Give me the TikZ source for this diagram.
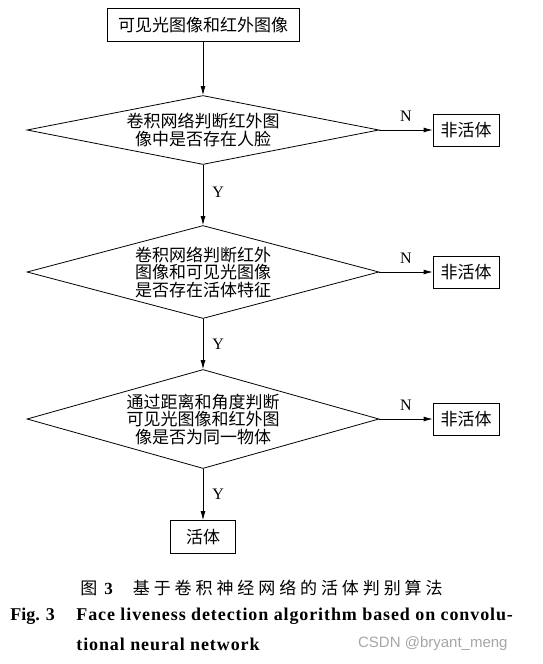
\documentclass[tikz,border=0pt]{standalone}
\usepackage{fontspec}
\setmainfont{Liberation Serif}
\setsansfont{Liberation Sans}
\newfontfamily\cjk{Noto Sans CJK SC}
\newfontfamily\capcjk[LetterSpace=23]{Noto Sans CJK SC}
\newfontfamily\capserif[LetterSpace=5]{Liberation Serif}
\usetikzlibrary{shapes.geometric,arrows.meta,calc}

\begin{document}
\begin{tikzpicture}[x=1pt, y=1pt, line width=0.8pt, font=\cjk\fontsize{17}{17.5}\selectfont,
	>={Latex[length=9pt,width=5pt]},
	block/.style={rectangle, draw, inner sep=0pt, minimum width=66pt, minimum height=32pt},
	decision/.style={diamond, draw, inner sep=0pt, align=center, minimum width=352pt},
	yn/.style={font=\rmfamily\fontsize{16}{16}\selectfont, inner sep=2pt},
	capen/.style={anchor=west, inner sep=0pt, font=\capserif\bfseries\fontsize{18}{18}\selectfont}]
	 \useasboundingbox (0,0) rectangle (543,-664);

	 \node[block, minimum width=192pt, minimum height=33pt] (input) at (203,-25) {可见光图像和红外图像};
	 \node[decision, below of=input, node distance=105pt, minimum height=69pt, aspect=5.1] (face) {卷积网络判断红外图\\像中是否存在人脸};
	 \node[decision, below of=face, node distance=142pt, minimum height=93pt, aspect=3.8] (alive) {卷积网络判断红外\\图像和可见光图像\\是否存在活体特征};
	 \node[decision, below of=alive, node distance=147pt, minimum height=99pt, aspect=3.56] (same) {通过距离和角度判断\\可见光图像和红外图\\像是否为同一物体};
	 \node[block, below of=same, node distance=118pt, minimum width=65pt, minimum height=33pt] (live) {活体};

	 \node[block, right of=face, node distance=263pt] (nolive1) {非活体};
	 \node[block, right of=alive, node distance=263pt] (nolive2) {非活体};
	 \node[block, right of=same, node distance=263pt] (nolive3) {非活体};

	 \draw[->] (input) -- (face);
	 \draw[->] (face) -- node[yn, right=7pt, pos=0.45] {Y} (alive);
	 \draw[->] (alive) -- node[yn, right=7pt] {Y} (same);
	 \draw[->] (same) -- node[yn, right=7pt] {Y} (live);
	 \draw[->] (face) -- node[yn, above=6pt] {N} (nolive1);
	 \draw[->] (alive) -- node[yn, above=6pt] {N} (nolive2);
	 \draw[->] (same) -- node[yn, above=6pt] {N} (nolive3);

	 % caption
	 \node[anchor=west, inner sep=0pt, font=\fontsize{17}{17}\selectfont] (capcn) at (80,-588)
	   {{\cjk 图}\hspace{7pt}\textbf{\rmfamily 3}\hspace{20pt}{\capcjk 基于卷积神经网络的活体判别算法}};
	 \node[anchor=west, inner sep=0pt, font=\rmfamily\bfseries\fontsize{18}{18}\selectfont] (fig) at (10,-616) {Fig. 3};
	 \node[capen] (capen1) at (76,-616) {Face liveness detection algorithm based on convolu-};
	 \node[capen] (capen2) at (76,-644) {tional neural network};
	 \node[anchor=east, inner sep=0pt, text=black!35, font=\sffamily\fontsize{15}{15}\selectfont] (mark) at (508,-644) {CSDN @bryant\_meng};
\end{tikzpicture}
\end{document}
